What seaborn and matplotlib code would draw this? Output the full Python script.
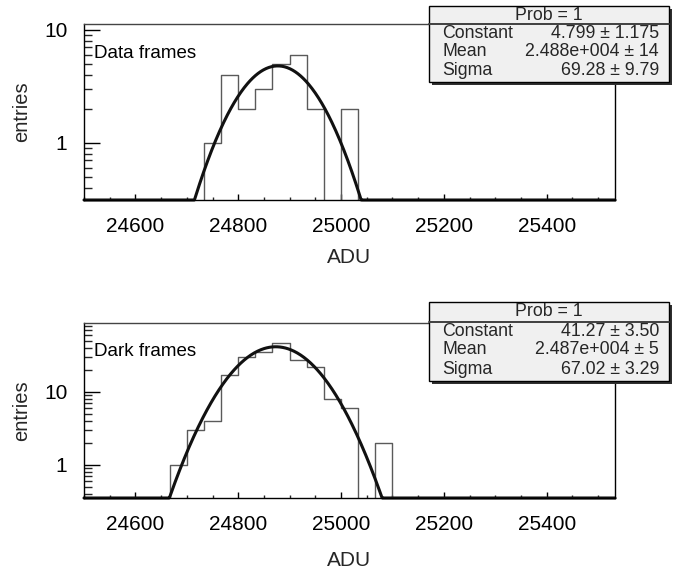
import numpy as np
import pandas as pd
import matplotlib
matplotlib.use("Agg")
import matplotlib.pyplot as plt
import seaborn as sns
from matplotlib.ticker import LogLocator, NullFormatter, FuncFormatter, MultipleLocator
from matplotlib.patches import Rectangle
from matplotlib.lines import Line2D

# ---------------- data ----------------
bin_start = 24500.0
bin_width = 100.0 / 3.0
n_bins = 31

data_counts = [0, 0, 0, 0, 0, 0, 0, 1, 4, 2, 3, 5, 6, 2, 0, 2,
               0, 0, 0, 0, 0, 0, 0, 0, 0, 0, 0, 0, 0, 0, 0]
dark_counts = [0, 0, 0, 0, 0, 1, 3, 4, 17, 30, 35, 47, 27, 22, 8, 6,
               0, 2, 0, 0, 0, 0, 0, 0, 0, 0, 0, 0, 0, 0, 0]

# Gaussian fit parameters (constant, mean, sigma)
data_fit = [4.799, 24877.0, 69.28]
dark_fit = [41.27, 24873.0, 67.02]

data_stats = [("Constant", "4.799 ± 1.175"),
              ("Mean", "2.488e+004 ± 14"),
              ("Sigma", "69.28 ± 9.79")]
dark_stats = [("Constant", "41.27 ± 3.50"),
              ("Mean", "2.487e+004 ± 5"),
              ("Sigma", "67.02 ± 3.29")]

panel_labels = ["Data frames", "Dark frames"]
x_range = (24500.0, 25533.0)
y_ranges = [(0.310, 11.3), (0.351, 87.3)]

# ---------------- style ----------------
sns.set_theme(style="ticks")
plt.rcParams["font.family"] = ["Liberation Sans", "DejaVu Sans"]
plt.rcParams["axes.linewidth"] = 1.0

W, H = 678, 570
fig = plt.figure(figsize=(W / 100, H / 100), dpi=100)

def fx(px):
    return px / W

def fy(py):
    return 1 - py / H

ax_top = fig.add_axes([fx(84), fy(200), (615 - 84) / W, (200 - 24) / H])
ax_bot = fig.add_axes([fx(84), fy(498), (615 - 84) / W, (498 - 323) / H])

bin_end = bin_start + bin_width * n_bins
centers = bin_start + bin_width * (np.arange(n_bins) + 0.5)

for ax, counts, fit, label, ylim in [
        (ax_top, data_counts, data_fit, panel_labels[0], y_ranges[0]),
        (ax_bot, dark_counts, dark_fit, panel_labels[1], y_ranges[1])]:
    df = pd.DataFrame({"ADU": centers, "entries": np.asarray(counts, float)})
    sns.histplot(data=df, x="ADU", weights="entries", bins=n_bins,
                 binrange=(bin_start, bin_end),
                 element="step", fill=False, color="#5a5a5a",
                 linewidth=1.0, ax=ax)
    ax.set_yscale("log")
    xs = np.linspace(x_range[0], x_range[1], 800)
    c, m, s = fit
    ys = c * np.exp(-0.5 * ((xs - m) / s) ** 2)
    ys = np.maximum(ys, ylim[0])
    sns.lineplot(x=xs, y=ys, color="#111111", linewidth=2.2, ax=ax,
                 estimator=None, sort=False, clip_on=False)
    ax.set_xlim(*x_range)
    ax.set_ylim(*ylim)
    ax.xaxis.set_major_locator(MultipleLocator(200))
    ax.xaxis.set_minor_locator(MultipleLocator(50))
    ax.yaxis.set_major_locator(LogLocator(base=10, numticks=10))
    ax.yaxis.set_minor_locator(LogLocator(base=10, subs=np.arange(2, 10), numticks=20))
    ax.yaxis.set_major_formatter(FuncFormatter(lambda v, p: f"{v:g}"))
    ax.yaxis.set_minor_formatter(NullFormatter())
    ax.tick_params(axis="y", which="major", direction="in", length=11.5, width=1,
                   labelsize=15, pad=12, colors="black")
    ax.tick_params(axis="y", which="minor", direction="in", length=5.8, width=1)
    ax.tick_params(axis="x", which="major", direction="in", length=4, width=1,
                   labelsize=15, pad=12, colors="black")
    ax.tick_params(axis="x", which="minor", direction="in", length=2.2, width=1)
    for sp in ax.spines.values():
        sp.set_visible(True)
        sp.set_color("black")
        sp.set_linewidth(1.0)
    ax.spines["top"].set_color("#444444")
    ax.set_xlabel("ADU", fontsize=15)
    ax.set_ylabel("entries", fontsize=14.5)
    ax.yaxis.set_label_coords(-0.100, 0.5)
    ax.text(0.019, 0.835, label, transform=ax.transAxes, fontsize=13.5,
            ha="left", va="center", color="black")
    if ax.get_legend() is not None:
        ax.get_legend().remove()

ax_top.xaxis.set_label_coords(0.5, -0.27)
ax_bot.xaxis.set_label_coords(0.5, -0.30)

# ---------------- stat boxes ----------------
def stat_box(top, sep, bottom, rows):
    left, right = 429, 669
    sh = 3
    fig.patches.append(Rectangle((fx(left + sh), fy(bottom + sh)), (right - left) / W,
                                 (bottom - top) / H, transform=fig.transFigure,
                                 facecolor="#303030", edgecolor="none", zorder=5))
    fig.patches.append(Rectangle((fx(left), fy(bottom)), (right - left) / W,
                                 (bottom - top) / H, transform=fig.transFigure,
                                 facecolor="#f0f0f0", edgecolor="black",
                                 linewidth=1.0, zorder=6))
    fig.lines.append(Line2D([fx(left), fx(right)], [fy(sep), fy(sep)],
                            transform=fig.transFigure, color="#404040",
                            linewidth=1.4, zorder=7))
    fig.text(fx((left + right) / 2), fy((top + sep) / 2), "Prob = 1",
             ha="center", va="center", fontsize=12.8, zorder=8)
    offs = [10, 28, 47]
    for (name, val), o in zip(rows, offs):
        fig.text(fx(442), fy(sep + o), name, ha="left", va="center",
                 fontsize=12.8, zorder=8)
        fig.text(fx(659), fy(sep + o), val, ha="right", va="center",
                 fontsize=12.8, zorder=8)

stat_box(6, 24, 82, data_stats)
stat_box(302, 322, 381, dark_stats)

fig.savefig("out.png", dpi=100)
